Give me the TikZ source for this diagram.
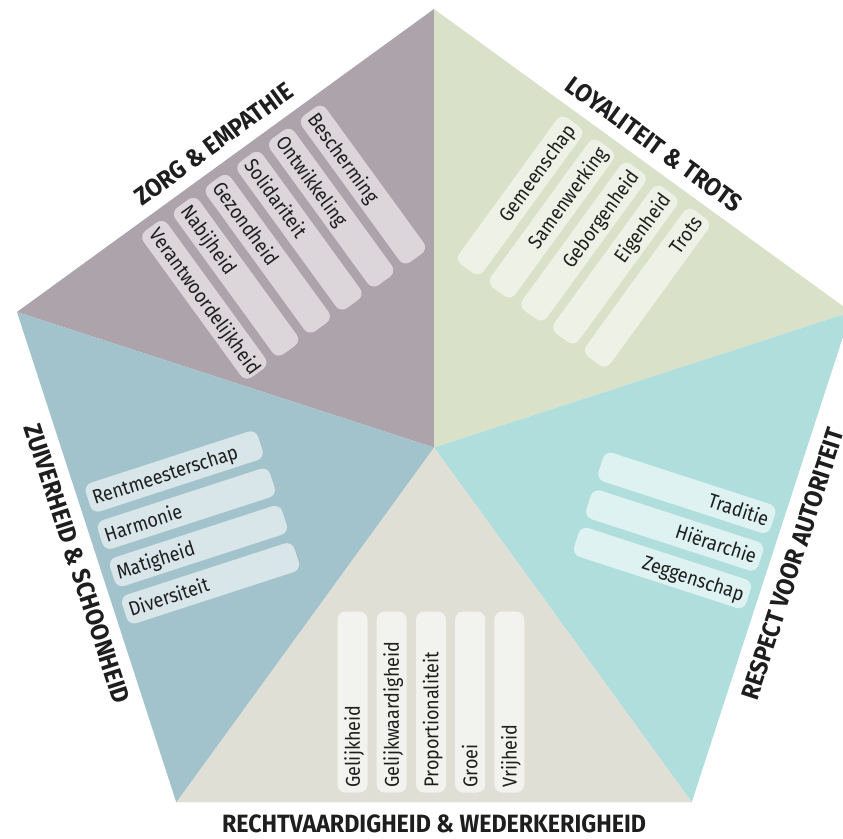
\documentclass[tikz,border=0pt]{standalone}
\usepackage{fontspec}
\newfontfamily\itemfont[FakeStretch=0.9]{Fira Sans}
\newfontfamily\titlefont[FakeStretch=0.93]{Fira Sans}
\definecolor{zorgbg}{HTML}{ADA3AA}
\definecolor{zorgpill}{HTML}{DCD6DA}
\definecolor{loyalbg}{HTML}{D9E2C8}
\definecolor{loyalpill}{HTML}{EEF2E6}
\definecolor{respbg}{HTML}{B0DEDC}
\definecolor{resppill}{HTML}{DEF2F1}
\definecolor{rechtbg}{HTML}{E0DFD6}
\definecolor{rechtpill}{HTML}{F2F2EE}
\definecolor{zuivbg}{HTML}{A2C3CC}
\definecolor{zuivpill}{HTML}{D8E6EA}
\definecolor{txt}{HTML}{1E1E1E}
\tikzset{
  pill/.style={rounded corners=8pt, minimum height=30pt, text width=171pt,
    inner xsep=5pt, inner ysep=0pt, text height=14.5pt, text depth=0pt,
    font={\itemfont\fontsize{20pt}{22pt}\selectfont}, transform shape, text=txt},
  inward/.style={pill, rotate=180, align=left},
  outward/.style={pill, align=right},
  sectitle/.style={font={\titlefont\bfseries\fontsize{25pt}{28pt}\selectfont},
    inner sep=0pt, text height=17.5pt, text depth=0pt, transform shape, text=txt}
}
\begin{document}
\begin{tikzpicture}[x=1pt,y=1pt]
\useasboundingbox (0,0) rectangle (843,-838);
\clip (0,0) rectangle (843,-838);
\coordinate (C) at (434,-447.5);
\coordinate (V1) at ([shift={(90:438.5)}]C);
\coordinate (V2) at ([shift={(18:438.5)}]C);
\coordinate (V3) at ([shift={(-54:438.5)}]C);
\coordinate (V4) at ([shift={(-126:438.5)}]C);
\coordinate (V5) at ([shift={(162:438.5)}]C);
\fill[zorgbg] (C) -- (V5) -- (V1) -- cycle;
\fill[loyalbg] (C) -- (V1) -- (V2) -- cycle;
\fill[respbg] (C) -- (V2) -- (V3) -- cycle;
\fill[rechtbg] (C) -- (V3) -- (V4) -- cycle;
\fill[zuivbg] (C) -- (V4) -- (V5) -- cycle;

% ZORG & EMPATHIE
\begin{scope}[shift={(C)}, rotate=126]
  \node[inward, fill=zorgpill] (z1) at (254.5, 99) {Verantwoordelijkheid};
  \node[inward, fill=zorgpill] (z2) at (254.5, 59.8) {Nabijheid};
  \node[inward, fill=zorgpill] (z3) at (254.5, 20.6) {Gezondheid};
  \node[inward, fill=zorgpill] (z4) at (254.5, -18.6) {Solidariteit};
  \node[inward, fill=zorgpill] (z5) at (254.5, -57.8) {Ontwikkeling};
  \node[inward, fill=zorgpill] (z6) at (254.5, -97) {Bescherming};
  \node[sectitle, rotate=-90] (tz) at (375,0) {ZORG \& EMPATHIE};
\end{scope}

% LOYALITEIT & TROTS
\begin{scope}[shift={(C)}, rotate=54]
  \node[outward, fill=loyalpill] (l1) at (254.5, 78.4) {Gemeenschap};
  \node[outward, fill=loyalpill] (l2) at (254.5, 39.2) {Samenwerking};
  \node[outward, fill=loyalpill] (l3) at (254.5, 0) {Geborgenheid};
  \node[outward, fill=loyalpill] (l4) at (254.5, -39.2) {Eigenheid};
  \node[outward, fill=loyalpill] (l5) at (254.5, -78.4) {Trots};
  \node[sectitle, rotate=-90] (tl) at (375,0) {LOYALITEIT \& TROTS};
\end{scope}

% RESPECT VOOR AUTORITEIT
\begin{scope}[shift={(C)}, rotate=-18]
  \node[outward, fill=resppill] (r1) at (254.5, 35) {Traditie};
  \node[outward, fill=resppill] (r2) at (254.5, -4.5) {Hiërarchie};
  \node[outward, fill=resppill] (r3) at (254.5, -44) {Zeggenschap};
  \node[sectitle, rotate=90] (tr) at (377,0) {RESPECT VOOR AUTORITEIT};
\end{scope}

% RECHTVAARDIGHEID & WEDERKERIGHEID
\begin{scope}[shift={(C)}, rotate=-90]
  \node[inward, fill=rechtpill] (b1) at (254.5, -81.5) {Gelijkheid};
  \node[inward, fill=rechtpill] (b2) at (254.5, -42.3) {Gelijkwaardigheid};
  \node[inward, fill=rechtpill] (b3) at (254.5, -3) {Proportionaliteit};
  \node[inward, fill=rechtpill] (b4) at (254.5, 36.2) {Groei};
  \node[inward, fill=rechtpill] (b5) at (254.5, 75.3) {Vrijheid};
  \node[sectitle, rotate=90] (tb) at (376,0) {RECHTVAARDIGHEID \& WEDERKERIGHEID};
\end{scope}

% ZUIVERHEID & SCHOONHEID
\begin{scope}[shift={(C)}, rotate=198]
  \node[inward, fill=zuivpill] (s1) at (254.5, -57.5) {Rentmeesterschap};
  \node[inward, fill=zuivpill] (s2) at (254.5, -18.3) {Harmonie};
  \node[inward, fill=zuivpill] (s3) at (254.5, 20.9) {Matigheid};
  \node[inward, fill=zuivpill] (s4) at (254.5, 60.1) {Diversiteit};
  \node[sectitle, rotate=90] (ts) at (375,0) {ZUIVERHEID \& SCHOONHEID};
\end{scope}
\end{tikzpicture}
\end{document}
